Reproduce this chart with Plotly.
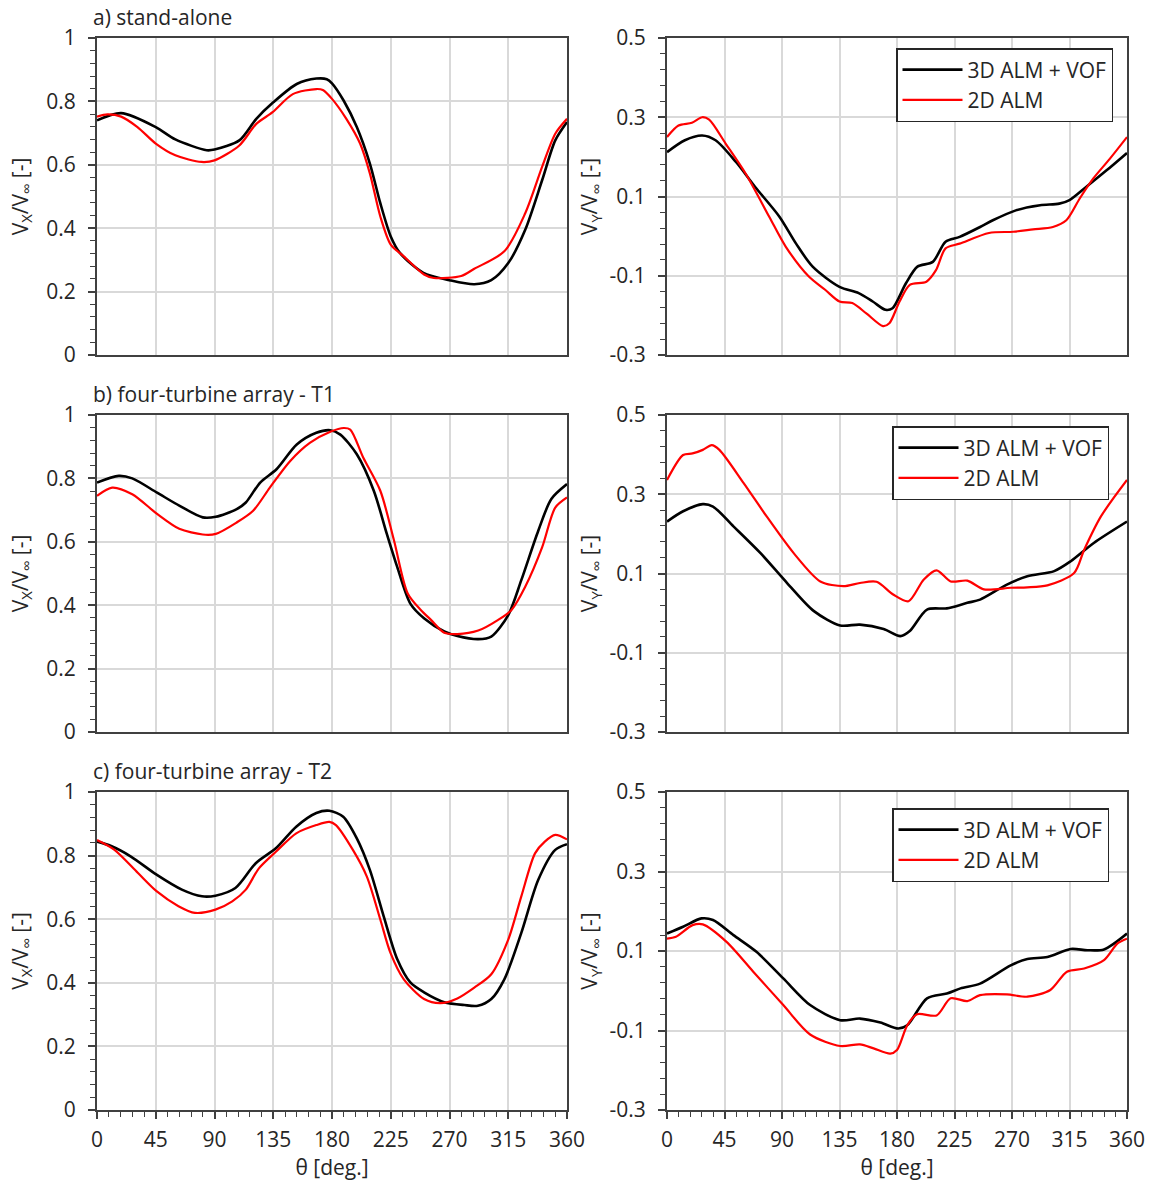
import plotly.graph_objects as go

# ---------------- data ----------------
# a) stand-alone, Vx
a_vx_3d_theta = [0, 18.5, 45, 60, 84, 90, 109, 122, 135, 153, 168, 176, 180, 189, 199, 209, 217, 225, 232, 250, 270, 289, 302, 315, 328, 341, 351, 360]
a_vx_3d_val   = [0.74, 0.763, 0.719, 0.68, 0.646, 0.648, 0.677, 0.745, 0.797, 0.855, 0.872, 0.870, 0.857, 0.802, 0.719, 0.604, 0.479, 0.374, 0.322, 0.259, 0.236, 0.223, 0.236, 0.29, 0.395, 0.552, 0.677, 0.735]
a_vx_2d_theta = [0, 8, 18.5, 31, 45, 60, 80, 90, 109, 122, 134.5, 150, 168, 173, 180, 191, 201.5, 209, 217, 225, 235, 250.5, 258, 279, 289, 312, 328, 341, 351, 360]
a_vx_2d_val   = [0.752, 0.759, 0.752, 0.719, 0.667, 0.63, 0.609, 0.614, 0.661, 0.729, 0.766, 0.823, 0.839, 0.836, 0.808, 0.745, 0.667, 0.573, 0.437, 0.348, 0.311, 0.254, 0.243, 0.249, 0.272, 0.327, 0.447, 0.594, 0.698, 0.745]

# a) stand-alone, Vy
a_vy_3d_theta = [0, 14, 27.5, 38, 54, 69, 88, 101, 114, 135, 150, 161, 171, 176.5, 187, 196, 208, 218, 229, 245, 255, 273, 292, 307, 315, 328, 344, 360]
a_vy_3d_val   = [0.212, 0.242, 0.254, 0.242, 0.187, 0.124, 0.049, -0.019, -0.077, -0.128, -0.144, -0.165, -0.186, -0.182, -0.119, -0.077, -0.065, -0.014, -0.002, 0.023, 0.04, 0.065, 0.078, 0.082, 0.091, 0.124, 0.166, 0.21]
a_vy_2d_theta = [0, 9, 19.5, 27.5, 33, 46, 61.5, 80, 93, 111, 124, 135, 145, 156, 169, 174, 182, 190, 203, 210.5, 218, 229, 252, 271, 286.5, 302, 312.5, 323, 333.5, 346.5, 360]
a_vy_2d_val   = [0.25, 0.279, 0.286, 0.30, 0.294, 0.233, 0.158, 0.049, -0.027, -0.102, -0.136, -0.165, -0.169, -0.195, -0.227, -0.220, -0.165, -0.123, -0.115, -0.086, -0.031, -0.019, 0.008, 0.011, 0.017, 0.023, 0.04, 0.095, 0.145, 0.195, 0.25]

# b) four-turbine array - T1, Vx
b_vx_3d_theta = [0, 16.7, 27, 46, 63, 81, 91, 107, 114, 125, 137.5, 153, 168, 178.7, 186.4, 199, 212, 222, 230, 240, 250.7, 266, 276, 292, 302, 315, 325, 338, 348, 360]
b_vx_3d_val   = [0.787, 0.808, 0.80, 0.755, 0.714, 0.677, 0.679, 0.703, 0.724, 0.787, 0.829, 0.907, 0.944, 0.952, 0.938, 0.876, 0.761, 0.625, 0.52, 0.405, 0.358, 0.317, 0.303, 0.293, 0.301, 0.369, 0.479, 0.635, 0.735, 0.782]
b_vx_2d_theta = [0, 11.6, 27, 46, 63, 81, 91, 107, 119.6, 132.4, 148, 163, 178.7, 189, 194, 204, 217, 227.5, 238, 248, 256, 266, 276, 292, 307, 317.5, 328, 341, 351, 360]
b_vx_2d_val   = [0.745, 0.771, 0.75, 0.688, 0.641, 0.623, 0.625, 0.661, 0.698, 0.771, 0.855, 0.912, 0.947, 0.959, 0.954, 0.865, 0.761, 0.604, 0.437, 0.385, 0.353, 0.313, 0.309, 0.32, 0.353, 0.385, 0.458, 0.583, 0.708, 0.74]

# b) four-turbine array - T1, Vy
b_vy_3d_theta = [0, 12.6, 28, 36, 52, 73, 94, 115, 135.5, 151, 169.5, 182.6, 190, 203.5, 219, 235, 245, 266, 282, 303, 316, 334, 360]
b_vy_3d_val   = [0.231, 0.257, 0.275, 0.269, 0.219, 0.152, 0.076, 0.005, -0.031, -0.029, -0.04, -0.058, -0.045, 0.009, 0.012, 0.026, 0.034, 0.072, 0.093, 0.106, 0.131, 0.177, 0.231]
b_vy_2d_theta = [0, 12.6, 20, 28, 35, 41, 60, 78, 99, 120, 138, 151, 164, 177, 189, 201, 211, 222, 235, 248, 269, 282, 297.7, 318.6, 326.5, 339.6, 360]
b_vy_2d_val   = [0.336, 0.399, 0.403, 0.412, 0.424, 0.412, 0.328, 0.244, 0.152, 0.080, 0.068, 0.076, 0.079, 0.047, 0.030, 0.085, 0.108, 0.080, 0.082, 0.06, 0.064, 0.065, 0.07, 0.101, 0.16, 0.244, 0.336]

# c) four-turbine array - T2, Vx
c_vx_3d_theta = [0, 10.8, 26, 45.6, 65, 80.4, 90.7, 106, 121.6, 137, 152.6, 168, 178, 188.6, 199, 209, 219.6, 230, 240, 250.5, 266, 281.4, 291.7, 302, 312, 325, 338, 351, 360]
c_vx_3d_val   = [0.844, 0.83, 0.797, 0.74, 0.693, 0.672, 0.674, 0.698, 0.776, 0.823, 0.891, 0.934, 0.941, 0.922, 0.854, 0.755, 0.609, 0.474, 0.401, 0.37, 0.339, 0.33, 0.328, 0.349, 0.411, 0.557, 0.724, 0.818, 0.836]
c_vx_2d_theta = [0, 13.4, 31.4, 45.6, 62.4, 75, 90.7, 103.6, 114, 124, 137, 152.6, 168, 178, 183, 196, 206.7, 217, 224.7, 235, 250.5, 263, 276, 289, 302, 315, 325, 335.5, 343, 351, 360]
c_vx_2d_val   = [0.849, 0.818, 0.745, 0.688, 0.641, 0.62, 0.63, 0.656, 0.693, 0.76, 0.812, 0.87, 0.896, 0.906, 0.896, 0.818, 0.734, 0.599, 0.495, 0.411, 0.349, 0.336, 0.351, 0.385, 0.427, 0.536, 0.672, 0.807, 0.844, 0.865, 0.851]

# c) four-turbine array - T2, Vy
c_vy_3d_theta = [0, 12.6, 27, 36, 52, 70, 91, 112, 135.5, 151, 167, 181, 188, 203.5, 219, 229.7, 245, 269, 282, 297.7, 316, 329, 342, 360]
c_vy_3d_val   = [0.144, 0.161, 0.182, 0.178, 0.14, 0.098, 0.031, -0.036, -0.074, -0.07, -0.08, -0.095, -0.087, -0.019, -0.007, 0.006, 0.018, 0.064, 0.08, 0.085, 0.105, 0.102, 0.104, 0.144]
c_vy_2d_theta = [0, 7, 20, 28, 46.6, 67.5, 91, 112, 135.5, 151, 161.7, 174.7, 180, 188, 195.7, 211, 222, 235, 245, 266, 282, 300, 313, 326.5, 342, 352.6, 360]
c_vy_2d_val   = [0.131, 0.136, 0.165, 0.167, 0.123, 0.048, -0.036, -0.11, -0.139, -0.135, -0.145, -0.158, -0.149, -0.087, -0.059, -0.062, -0.019, -0.026, -0.011, -0.009, -0.015, 0.002, 0.048, 0.056, 0.077, 0.119, 0.131]

series_names = ["3D ALM + VOF", "2D ALM"]
panel_titles = ["a) stand-alone", "b) four-turbine array - T1", "c) four-turbine array - T2"]
x_ticks = [0, 45, 90, 135, 180, 225, 270, 315, 360]
vx_ticks = [0, 0.2, 0.4, 0.6, 0.8, 1]
vx_ticktext = ["0", "0.2", "0.4", "0.6", "0.8", "1"]
vy_ticks = [-0.3, -0.1, 0.1, 0.3, 0.5]
vy_ticktext = ["-0.3", "-0.1", "0.1", "0.3", "0.5"]

# ---------------- layout geometry ----------------
W, H = 1150, 1187
FONT = "Open Sans"
TXT = "#262626"
BLACK = "#000000"
RED = "#ff0000"
GRID = "#d9d9d9"
FRAME = "#404040"
FS = 21

left_dom = [97 / W, 567 / W]
right_dom = [667 / W, 1127 / W]
rows_px = [(38, 355), (415, 732), (792, 1110)]
row_doms = [[1 - b / H, 1 - t / H] for (t, b) in rows_px]

fig = go.Figure()

panels = [
    (a_vx_3d_theta, a_vx_3d_val, a_vx_2d_theta, a_vx_2d_val),
    (a_vy_3d_theta, a_vy_3d_val, a_vy_2d_theta, a_vy_2d_val),
    (b_vx_3d_theta, b_vx_3d_val, b_vx_2d_theta, b_vx_2d_val),
    (b_vy_3d_theta, b_vy_3d_val, b_vy_2d_theta, b_vy_2d_val),
    (c_vx_3d_theta, c_vx_3d_val, c_vx_2d_theta, c_vx_2d_val),
    (c_vy_3d_theta, c_vy_3d_val, c_vy_2d_theta, c_vy_2d_val),
]

legend_names = {1: "legend", 3: "legend2", 5: "legend3"}

for i, (t3, v3, t2, v2) in enumerate(panels):
    idx = i + 1
    xa = "x" if idx == 1 else f"x{idx}"
    ya = "y" if idx == 1 else f"y{idx}"
    row = i // 2
    is_right = (i % 2 == 1)
    fig.add_trace(go.Scatter(x=t3, y=v3, mode="lines", name=series_names[0],
                             line=dict(color=BLACK, width=2.6, shape="spline", smoothing=0.8),
                             xaxis=xa, yaxis=ya,
                             showlegend=is_right, legend=legend_names[i] if is_right else None))
    fig.add_trace(go.Scatter(x=t2, y=v2, mode="lines", name=series_names[1],
                             line=dict(color=RED, width=2.2, shape="spline", smoothing=0.8),
                             xaxis=xa, yaxis=ya,
                             showlegend=is_right, legend=legend_names[i] if is_right else None))

    bottom = (row == 2)
    xkey = "xaxis" if idx == 1 else f"xaxis{idx}"
    ykey = "yaxis" if idx == 1 else f"yaxis{idx}"
    xaxis = dict(
        domain=right_dom if is_right else left_dom,
        anchor=ya, range=[0, 360], tickvals=x_ticks,
        showticklabels=bottom, automargin=False, ticklabelstandoff=3,
        ticks="outside" if bottom else "", ticklen=7, tickwidth=1.5, tickcolor=FRAME,
        showgrid=True, gridcolor=GRID, gridwidth=1.5,
        showline=True, linecolor=FRAME, linewidth=2, mirror=True,
        zeroline=False,
        tickfont=dict(family=FONT, size=FS, color=TXT),
    )
    if bottom:
        xaxis["minor"] = dict(dtick=9, tick0=0, ticks="outside", ticklen=5, tickwidth=1.3,
                              tickcolor=FRAME, showgrid=False)
        xaxis["title"] = dict(text="θ [deg.]", font=dict(family=FONT, size=FS, color=TXT), standoff=1)
    if is_right:
        yaxis = dict(range=[-0.3, 0.5], tickvals=vy_ticks, ticktext=vy_ticktext,
                     title=dict(text="V<sub>Y</sub>/V<sub>∞</sub> [-]", standoff=6,
                                font=dict(family=FONT, size=FS, color=TXT)))
        ymin = dict(dtick=0.04, tick0=-0.3)
    else:
        yaxis = dict(range=[0, 1], tickvals=vx_ticks, ticktext=vx_ticktext,
                     title=dict(text="V<sub>X</sub>/V<sub>∞</sub> [-]", standoff=12,
                                font=dict(family=FONT, size=FS, color=TXT)))
        ymin = dict(dtick=0.04, tick0=0)
    yaxis.update(dict(
        domain=row_doms[row], anchor=xa, automargin=False, ticklabelstandoff=8,
        ticks="outside", ticklen=7, tickwidth=1.5, tickcolor=FRAME,
        showgrid=True, gridcolor=GRID, gridwidth=1.5,
        showline=True, linecolor=FRAME, linewidth=2, mirror=True,
        zeroline=False,
        tickfont=dict(family=FONT, size=FS, color=TXT),
        minor=dict(ticks="outside", ticklen=5, tickwidth=1.3, tickcolor=FRAME, showgrid=False, **ymin),
    ))
    fig.update_layout(**{xkey: xaxis, ykey: yaxis})

# panel titles
for r, txt in enumerate(panel_titles):
    fig.add_annotation(text=txt, xref="paper", yref="paper",
                       x=91 / W, y=1 - (rows_px[r][0] - 21) / H,
                       xanchor="left", yanchor="middle", showarrow=False,
                       font=dict(family=FONT, size=FS, color=TXT))

leg_common = dict(xanchor="right", yanchor="top", bgcolor="white",
                  bordercolor=TXT, borderwidth=1.5,
                  font=dict(family=FONT, size=FS, color=TXT),
                  itemwidth=60, tracegroupgap=0)
fig.update_layout(
    legend=dict(x=1113 / W, y=1 - 48 / H, **leg_common),
    legend2=dict(x=1109 / W, y=1 - 426 / H, **leg_common),
    legend3=dict(x=1109 / W, y=1 - 808 / H, **leg_common),
)

fig.update_layout(width=W, height=H, margin=dict(l=0, r=0, t=0, b=0, autoexpand=False),
                  paper_bgcolor="white", plot_bgcolor="white")

fig.write_html("out.html")
